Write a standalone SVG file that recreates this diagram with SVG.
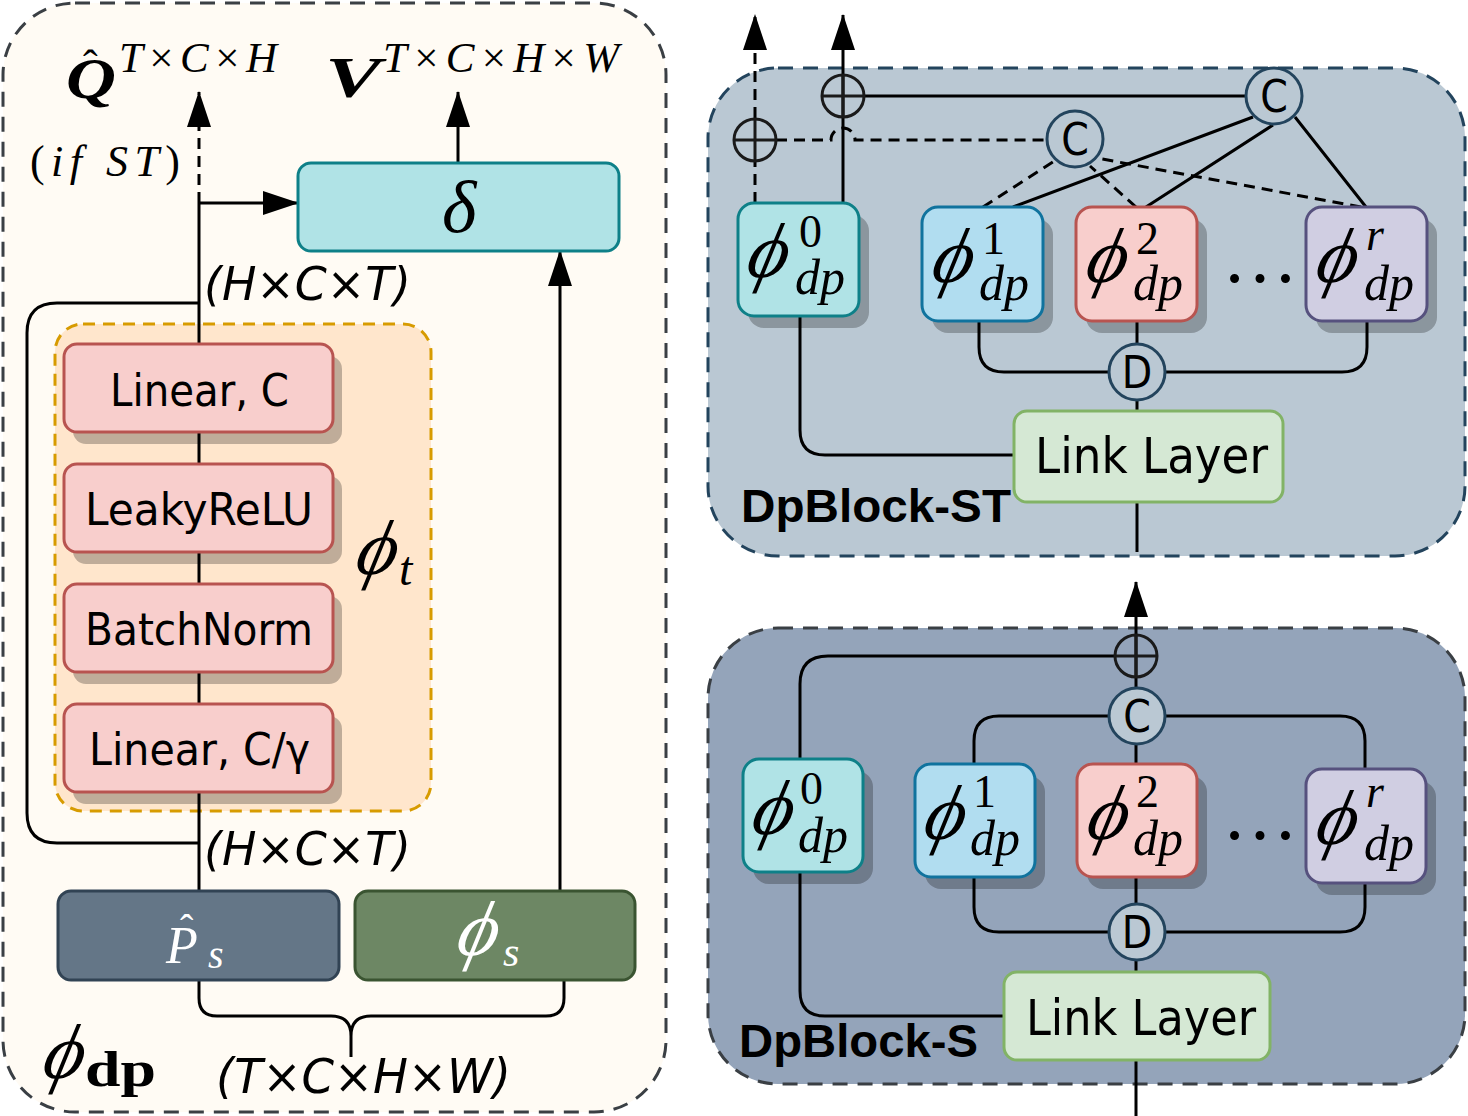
<svg xmlns="http://www.w3.org/2000/svg" width="1468" height="1116" viewBox="0 0 1468 1116">
<defs>
<marker id="ah" viewBox="0 0 36 24" markerWidth="36" markerHeight="24" markerUnits="userSpaceOnUse" refX="35" refY="12" orient="auto"><path d="M0,0 L36,12 L0,24 Z" fill="#000"/></marker>
</defs>
<style>
.ln{fill:none;stroke:#000;stroke-width:3}
.dl{fill:none;stroke:#000;stroke-width:3;stroke-dasharray:11 7}
.sh{fill:#000;fill-opacity:0.25}
.pink{fill:#f8cecc;stroke:#b85450;stroke-width:3}
.sans{font-family:"DejaVu Sans Condensed","DejaVu Sans",sans-serif;font-stretch:condensed}
.bold{font-family:"Liberation Sans",Arial,sans-serif;font-weight:bold}
.m{font-family:"Liberation Serif","DejaVu Serif",serif;font-style:italic}
.up{font-style:normal}
.phi{font-family:"Liberation Serif","DejaVu Serif",serif;font-style:italic;font-size:78px}
.circ{fill:#bac8d3;stroke:#23445d;stroke-width:3}
.oplus{fill:none;stroke:#1a1a1a;stroke-width:3}
</style>

<!-- containers -->
<g id="panel-left"><rect x="3" y="3" width="663" height="1109" rx="72" fill="#fffbf4" stroke="#3a3f44" stroke-width="3" stroke-dasharray="15 10"/></g>
<g id="phi-t-group"><rect x="55" y="324" width="376" height="487" rx="28" fill="#ffe6cc" stroke="#d79b00" stroke-width="3" stroke-dasharray="12 8"/></g>
<g id="block-st"><rect x="708" y="68" width="757" height="488" rx="70" fill="#bac8d3" stroke="#23445d" stroke-width="3" stroke-dasharray="15 10"/></g>
<g id="block-s"><rect x="708" y="628" width="757" height="456" rx="70" fill="#94a4ba" stroke="#3a3f44" stroke-width="3" stroke-dasharray="15 10"/></g>

<!-- connectors -->
<g id="connectors">
<path class="ln" d="M199,891 V203"/>
<path class="ln" d="M199,203 H298" marker-end="url(#ah)"/>
<path class="dl" d="M199,203 V92" marker-end="url(#ah)"/>
<path class="ln" d="M458,163 V92" marker-end="url(#ah)"/>
<path class="ln" d="M560,891 V251" marker-end="url(#ah)"/>
<path class="ln" d="M199,303 H57 Q27,303 27,333 V813 Q27,843 57,843 H199"/>
<path class="ln" d="M199,981 V998 Q199,1016 217,1016 H331 Q351,1016 351,1036 V1057 M564,981 V998 Q564,1016 546,1016 H371 Q351,1016 351,1036"/>
<!-- top block -->
<path class="dl" d="M755,203 V162 M755,118 V15" marker-end="url(#ah)"/>
<path class="ln" d="M843,203 V15" marker-end="url(#ah)"/>
<path class="ln" d="M864,96 H1246"/>
<path class="dl" d="M776,140 H831 A12,12 0 0 1 855,140 H1047"/>
<path class="ln" d="M1013,207 L1253,117 M1146,207 L1273,125 M1366,207 L1295,117"/>
<path class="dl" d="M983,207 L1056,160 M1136,207 L1090,166 M1361,207 L1102,159"/>
<path class="ln" d="M979,321 V347 Q979,372 1004,372 H1108 M1367,321 V347 Q1367,372 1342,372 H1166"/>
<path class="ln" d="M1137,321 V552"/>
<path class="ln" d="M800,316 V430 Q800,455 825,455 H1014"/>
<!-- bottom block -->
<path class="ln" d="M1136,1116 V582" marker-end="url(#ah)"/>
<path class="ln" d="M800,759 V684 Q800,656 828,656 H1115"/>
<path class="ln" d="M974,764 V741 Q974,716 999,716 H1108 M1365,769 V741 Q1365,716 1340,716 H1166"/>
<path class="ln" d="M974,877 V907 Q974,932 999,932 H1108 M1365,883 V907 Q1365,932 1340,932 H1166"/>
<path class="ln" d="M800,872 V991 Q800,1016 825,1016 H1004"/>
</g>

<!-- left panel nodes -->
<g id="delta"><rect x="298" y="163" width="321" height="88" rx="13" fill="#b0e3e6" stroke="#0e8088" stroke-width="3"/><text class="m" x="442" y="232" font-size="74">δ</text></g>
<g id="linear-c"><rect class="sh" x="73" y="356" width="269" height="88" rx="13"/><rect class="pink" x="64" y="344" width="269" height="88" rx="13"/><text class="sans" x="110" y="406" font-size="45" textLength="179" lengthAdjust="spacingAndGlyphs">Linear, C</text></g>
<g id="leakyrelu"><rect class="sh" x="73" y="476" width="269" height="88" rx="13"/><rect class="pink" x="64" y="464" width="269" height="88" rx="13"/><text class="sans" x="85" y="525" font-size="45" textLength="228" lengthAdjust="spacingAndGlyphs">LeakyReLU</text></g>
<g id="batchnorm"><rect class="sh" x="73" y="596" width="269" height="88" rx="13"/><rect class="pink" x="64" y="584" width="269" height="88" rx="13"/><text class="sans" x="85" y="645" font-size="45" textLength="228" lengthAdjust="spacingAndGlyphs">BatchNorm</text></g>
<g id="linear-cg"><rect class="sh" x="73" y="716" width="269" height="88" rx="13"/><rect class="pink" x="64" y="704" width="269" height="88" rx="13"/><text class="sans" x="89" y="765" font-size="45" textLength="221" lengthAdjust="spacingAndGlyphs">Linear, C/γ</text></g>
<g id="p-s"><rect x="58" y="891" width="281" height="89" rx="13" fill="#647687" stroke="#314354" stroke-width="3"/><text class="m" x="166" y="963" font-size="52" fill="#fff">P</text><text class="m up" x="180" y="942" font-size="40" fill="#fff">ˆ</text><text class="m" x="208" y="968" font-size="40" fill="#fff">s</text></g>
<g id="phi-s"><rect x="355" y="891" width="280" height="89" rx="13" fill="#6d8764" stroke="#3a5431" stroke-width="3"/><text class="phi" transform="translate(454 955) skewX(-13)" font-size="76" fill="#fff">ϕ</text><text class="m" x="503" y="966" font-size="42" fill="#fff">s</text></g>

<!-- left panel labels -->
<g id="labels-left">
<text class="m" x="66" y="98" font-size="56" font-weight="bold" textLength="50" lengthAdjust="spacingAndGlyphs">Q</text>
<text class="m up" x="83" y="80" font-size="44">ˆ</text>
<text class="m" x="119" y="72" font-size="43" textLength="158" lengthAdjust="spacing">T<tspan class="up">×</tspan>C<tspan class="up">×</tspan>H</text>
<text class="m" x="325" y="97" font-size="58" font-weight="bold" textLength="56" lengthAdjust="spacingAndGlyphs">V</text>
<text class="m" x="383" y="72" font-size="43" textLength="236" lengthAdjust="spacing">T<tspan class="up">×</tspan>C<tspan class="up">×</tspan>H<tspan class="up">×</tspan>W</text>
<text class="m" x="30" y="176" font-size="44" textLength="150" lengthAdjust="spacing"><tspan class="up">(</tspan>if ST<tspan class="up">)</tspan></text>
<text class="sans" x="204" y="300" font-size="46" font-style="oblique" textLength="207" lengthAdjust="spacingAndGlyphs">(H×C×T)</text>
<text class="sans" x="204" y="865" font-size="46" font-style="oblique" textLength="207" lengthAdjust="spacingAndGlyphs">(H×C×T)</text>
<text class="sans" x="216" y="1093" font-size="48" font-style="oblique" textLength="295" lengthAdjust="spacingAndGlyphs">(T×C×H×W)</text>
<text class="phi" transform="translate(353 574) skewX(-13)" font-size="76">ϕ</text><text class="m" x="399" y="585" font-size="48">t</text>
<text class="phi" transform="translate(40 1078) skewX(-13)" font-size="78">ϕ</text><text x="85" y="1086" font-size="50" font-family="Liberation Serif,serif" font-weight="bold" textLength="71" lengthAdjust="spacingAndGlyphs">dp</text>
</g>

<!-- DpBlock-ST nodes -->
<g id="st-phi0"><rect class="sh" x="748" y="215" width="121" height="113" rx="16"/><rect x="738" y="203" width="121" height="113" rx="16" fill="#b0e3e6" stroke="#0e8088" stroke-width="3"/><text class="phi" transform="translate(744 277) skewX(-13)">ϕ</text><text class="m up" x="799" y="247" font-size="46">0</text><text class="m" x="795" y="294" font-size="50">dp</text></g>
<g id="st-phi1"><rect class="sh" x="932" y="219" width="121" height="114" rx="16"/><rect x="922" y="207" width="121" height="114" rx="16" fill="#b1ddf0" stroke="#10739e" stroke-width="3"/><text class="phi" transform="translate(929 282) skewX(-13)">ϕ</text><text class="m up" x="982" y="254" font-size="46">1</text><text class="m" x="979" y="300" font-size="50">dp</text></g>
<g id="st-phi2"><rect class="sh" x="1086" y="219" width="121" height="114" rx="16"/><rect x="1076" y="207" width="121" height="114" rx="16" fill="#f8cecc" stroke="#b85450" stroke-width="3"/><text class="phi" transform="translate(1083 282) skewX(-13)">ϕ</text><text class="m up" x="1136" y="254" font-size="46">2</text><text class="m" x="1133" y="300" font-size="50">dp</text></g>
<g id="st-dots"><text class="m up" x="1222" y="282" font-size="76">…</text></g>
<g id="st-phir"><rect class="sh" x="1316" y="219" width="121" height="114" rx="16"/><rect x="1306" y="207" width="121" height="114" rx="16" fill="#d0cee2" stroke="#56517e" stroke-width="3"/><text class="phi" transform="translate(1313 282) skewX(-13)">ϕ</text><text class="m" x="1366" y="250" font-size="46">r</text><text class="m" x="1364" y="300" font-size="50">dp</text></g>
<g id="st-oplus-top"><circle class="oplus" cx="843" cy="96" r="21"/><path class="oplus" d="M822,96 H864 M843,75 V117"/></g>
<g id="st-oplus-left"><circle class="oplus" cx="755" cy="140" r="21"/><path class="oplus" d="M734,140 H776 M755,119 V161"/></g>
<g id="st-c1"><circle class="circ" cx="1274" cy="96" r="28"/><text class="sans" x="1274" y="112" font-size="44" text-anchor="middle">C</text></g>
<g id="st-c2"><circle class="circ" cx="1075" cy="139" r="28"/><text class="sans" x="1075" y="155" font-size="44" text-anchor="middle">C</text></g>
<g id="st-d"><circle class="circ" cx="1137" cy="372" r="28"/><text class="sans" x="1137" y="388" font-size="44" text-anchor="middle">D</text></g>
<g id="st-link"><rect x="1014" y="411" width="269" height="91" rx="13" fill="#d5e8d4" stroke="#82b366" stroke-width="3"/><text class="sans" x="1035" y="473" font-size="50" textLength="233" lengthAdjust="spacingAndGlyphs">Link Layer</text></g>
<g id="st-label"><text class="bold" x="741" y="522" font-size="47" textLength="270" lengthAdjust="spacingAndGlyphs">DpBlock-ST</text></g>

<!-- DpBlock-S nodes -->
<g id="s-phi0"><rect class="sh" x="753" y="771" width="120" height="113" rx="16"/><rect x="743" y="759" width="120" height="113" rx="16" fill="#b0e3e6" stroke="#0e8088" stroke-width="3"/><text class="phi" transform="translate(749 834) skewX(-13)">ϕ</text><text class="m up" x="800" y="804" font-size="46">0</text><text class="m" x="798" y="852" font-size="50">dp</text></g>
<g id="s-phi1"><rect class="sh" x="925" y="776" width="120" height="113" rx="16"/><rect x="915" y="764" width="120" height="113" rx="16" fill="#b1ddf0" stroke="#10739e" stroke-width="3"/><text class="phi" transform="translate(921 839) skewX(-13)">ϕ</text><text class="m up" x="973" y="807" font-size="46">1</text><text class="m" x="970" y="855" font-size="50">dp</text></g>
<g id="s-phi2"><rect class="sh" x="1087" y="776" width="120" height="113" rx="16"/><rect x="1077" y="764" width="120" height="113" rx="16" fill="#f8cecc" stroke="#b85450" stroke-width="3"/><text class="phi" transform="translate(1084 839) skewX(-13)">ϕ</text><text class="m up" x="1136" y="807" font-size="46">2</text><text class="m" x="1133" y="855" font-size="50">dp</text></g>
<g id="s-dots"><text class="m up" x="1222" y="839" font-size="76">…</text></g>
<g id="s-phir"><rect class="sh" x="1316" y="781" width="120" height="114" rx="16"/><rect x="1306" y="769" width="120" height="114" rx="16" fill="#d0cee2" stroke="#56517e" stroke-width="3"/><text class="phi" transform="translate(1313 844) skewX(-13)">ϕ</text><text class="m" x="1366" y="807" font-size="46">r</text><text class="m" x="1364" y="860" font-size="50">dp</text></g>
<g id="s-oplus"><circle class="oplus" cx="1136" cy="656" r="21"/><path class="oplus" d="M1115,656 H1157 M1136,635 V677"/></g>
<g id="s-c"><circle class="circ" cx="1137" cy="716" r="28"/><text class="sans" x="1137" y="732" font-size="44" text-anchor="middle">C</text></g>
<g id="s-d"><circle class="circ" cx="1137" cy="932" r="28"/><text class="sans" x="1137" y="948" font-size="44" text-anchor="middle">D</text></g>
<g id="s-link"><rect x="1004" y="972" width="266" height="88" rx="13" fill="#d5e8d4" stroke="#82b366" stroke-width="3"/><text class="sans" x="1026" y="1035" font-size="50" textLength="230" lengthAdjust="spacingAndGlyphs">Link Layer</text></g>
<g id="s-label"><text class="bold" x="739" y="1057" font-size="47" textLength="239" lengthAdjust="spacingAndGlyphs">DpBlock-S</text></g>
</svg>
